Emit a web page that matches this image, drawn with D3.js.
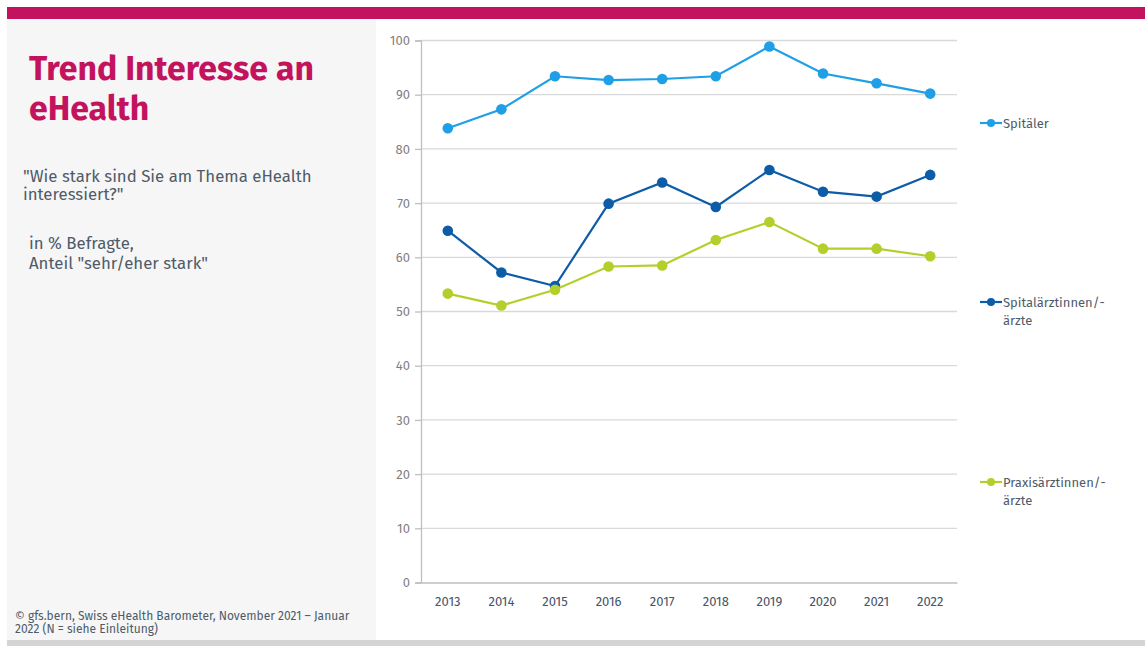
<!DOCTYPE html>
<html>
<head>
<meta charset="utf-8">
<script src="https://cdn.jsdelivr.net/npm/d3@7"></script>
<style>
  html, body { margin: 0; padding: 0; background: #ffffff; }
  svg { display: block; }
  text { font-family: "Fira Sans", "Open Sans", "Noto Sans", sans-serif; }
</style>
</head>
<body>
<svg id="chart" width="1145" height="646"></svg>
<script>
// Survey years
const years = ["2013", "2014", "2015", "2016", "2017", "2018", "2019", "2020", "2021", "2022"];

// Share "sehr/eher stark" interested, in % of respondents
const spitaeler = [83.8, 87.3, 93.4, 92.7, 92.9, 93.4, 98.9, 93.9, 92.1, 90.2];
const spitalaerzte = [64.9, 57.2, 54.7, 69.9, 73.8, 69.3, 76.1, 72.1, 71.2, 75.2];
const praxisaerzte = [53.3, 51.1, 54.0, 58.3, 58.5, 63.2, 66.5, 61.6, 61.6, 60.2];

const seriesNames = ["Spitäler", ["Spitalärztinnen/-", "ärzte"], ["Praxisärztinnen/-", "ärzte"]];
const yTicks = [0, 10, 20, 30, 40, 50, 60, 70, 80, 90, 100];

const colors = ["#1f9fe6", "#0d5ca8", "#b4cf2b"];
const series = [spitaeler, spitalaerzte, praxisaerzte];

const svg = d3.select("#chart");

// Page frame: header stripe, side panel, footer stripe
svg.append("rect").attr("x", 7).attr("y", 7).attr("width", 1138).attr("height", 12).attr("fill", "#c4135e");
svg.append("rect").attr("x", 7).attr("y", 19).attr("width", 369).attr("height", 621).attr("fill", "#f6f6f6");
svg.append("rect").attr("x", 7).attr("y", 640).attr("width", 1138).attr("height", 6).attr("fill", "#d4d4d4");

// Side panel texts
const title = svg.append("text").attr("fill", "#c4135e").attr("font-weight", 700).attr("font-size", 33.8);
title.append("tspan").attr("x", 29).attr("y", 80).text("Trend Interesse an");
title.append("tspan").attr("x", 29).attr("y", 120).text("eHealth");

const q = svg.append("text").attr("fill", "#4f5b68").attr("font-size", 16.8);
q.append("tspan").attr("x", 23).attr("y", 181.5).text("\"Wie stark sind Sie am Thema eHealth");
q.append("tspan").attr("x", 23).attr("y", 200).text("interessiert?\"");

const unit = svg.append("text").attr("fill", "#4f5b68").attr("font-size", 16.8);
unit.append("tspan").attr("x", 29).attr("y", 249).text("in % Befragte,");
unit.append("tspan").attr("x", 29).attr("y", 269).text("Anteil \"sehr/eher stark\"");

const src = svg.append("text").attr("fill", "#4f5b68").attr("font-size", 12);
src.append("tspan").attr("x", 15).attr("y", 619.5).text("© gfs.bern, Swiss eHealth Barometer, November 2021 – Januar");
src.append("tspan").attr("x", 15).attr("y", 633).text("2022 (N = siehe Einleitung)");

// Scales
const x = d3.scaleBand().domain(years).range([421, 957]);
const y = d3.scaleLinear().domain([0, 100]).range([582.5, 40.5]);

// Gridlines
svg.append("g")
  .selectAll("line")
  .data(yTicks.filter(d => d > 0))
  .join("line")
  .attr("x1", 421).attr("x2", 957)
  .attr("y1", d => y(d)).attr("y2", d => y(d))
  .attr("stroke", "#d9d9d9").attr("stroke-width", 1.3);

// Y axis
const yAxis = svg.append("g")
  .attr("transform", "translate(421,0)")
  .call(d3.axisLeft(y).tickValues(yTicks).tickSize(6).tickPadding(5));
yAxis.select(".domain").attr("stroke", "#bfbfbf").attr("stroke-width", 1.3);
yAxis.selectAll(".tick line").attr("stroke", "#bfbfbf").attr("stroke-width", 1.3);
yAxis.selectAll(".tick text").attr("fill", "#7f7f7f").attr("font-size", 13)
  .attr("font-family", "\"Fira Sans\", \"Open Sans\", sans-serif");

// X axis
const xAxis = svg.append("g")
  .attr("transform", `translate(0,${y(0)})`)
  .call(d3.axisBottom(x).tickSize(0).tickPadding(14));
xAxis.select(".domain").attr("stroke", "#bfbfbf").attr("stroke-width", 1.3);
xAxis.selectAll(".tick text").attr("fill", "#44546a").attr("font-size", 13)
  .attr("font-family", "\"Fira Sans\", \"Open Sans\", sans-serif");

// Lines and markers
const cx = d => x(d) + x.bandwidth() / 2;
const line = d3.line().x((d, i) => cx(years[i])).y(d => y(d));

series.forEach((vals, si) => {
  svg.append("path")
    .datum(vals)
    .attr("d", line)
    .attr("fill", "none")
    .attr("stroke", colors[si])
    .attr("stroke-width", 2.2);
  svg.append("g")
    .selectAll("circle")
    .data(vals)
    .join("circle")
    .attr("cx", (d, i) => cx(years[i]))
    .attr("cy", d => y(d))
    .attr("r", 5.3)
    .attr("fill", colors[si]);
});

// Legend
const legendY = [123, 302, 482];
seriesNames.forEach((name, si) => {
  const g = svg.append("g").attr("transform", `translate(980,${legendY[si]})`);
  g.append("line").attr("x1", 0).attr("x2", 22).attr("y1", 0).attr("y2", 0)
    .attr("stroke", colors[si]).attr("stroke-width", 2.2);
  g.append("circle").attr("cx", 11).attr("cy", 0).attr("r", 4).attr("fill", colors[si]);
  const t = g.append("text").attr("fill", "#4f5b68").attr("font-size", 13);
  const lines = Array.isArray(name) ? name : [name];
  lines.forEach((l, li) => {
    t.append("tspan").attr("x", 23).attr("y", 5 + li * 18).text(l);
  });
});
</script>
</body>
</html>
